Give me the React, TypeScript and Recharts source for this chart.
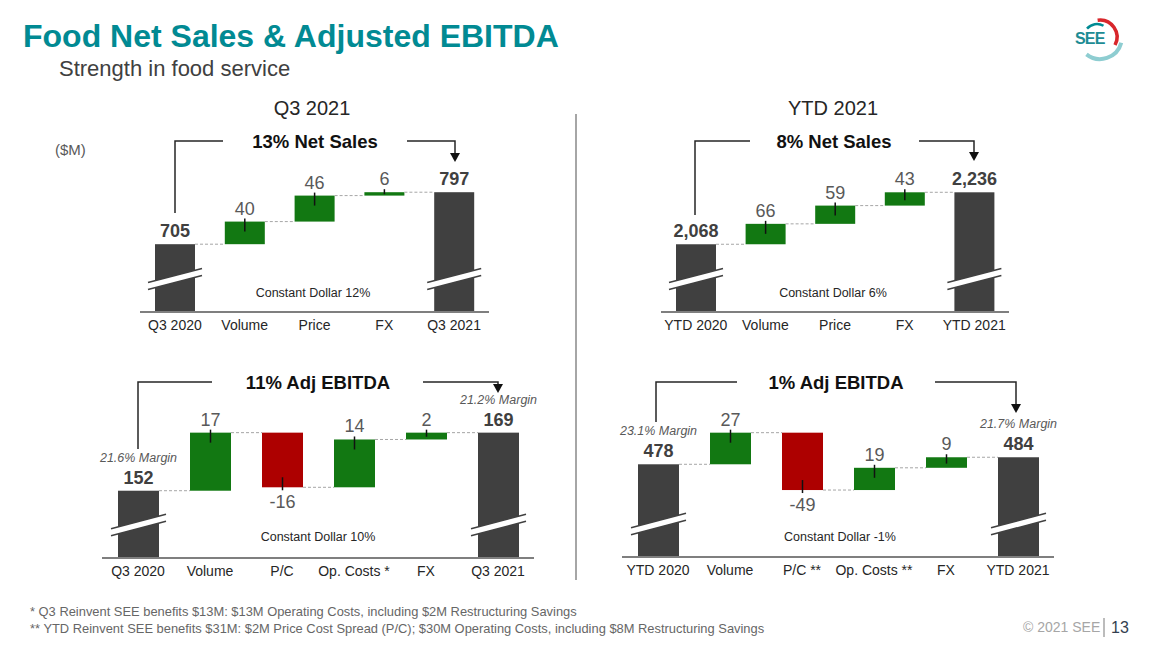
import React from 'react'
import { BarChart, Bar, XAxis, YAxis } from 'recharts'

const FONT = '"Liberation Sans", Arial, Helvetica, sans-serif'
const TEAL = '#018A93'
const BAR_DARK = '#404040'
const GREEN = '#127812'
const RED = '#AD0000'
const LABEL_GRAY = '#595959'

// Net sales bridges ($M)
const q3SalesCats = ['Q3 2020', 'Volume', 'Price', 'FX', 'Q3 2021']
const q3SalesVals = [705, 40, 46, 6, 797]
const ytdSalesCats = ['YTD 2020', 'Volume', 'Price', 'FX', 'YTD 2021']
const ytdSalesVals = [2068, 66, 59, 43, 2236]

// Adj EBITDA bridges ($M)
const q3EbitdaCats = ['Q3 2020', 'Volume', 'P/C', 'Op. Costs *', 'FX', 'Q3 2021']
const q3EbitdaVals = [152, 17, -16, 14, 2, 169]
const q3EbitdaMargins = ['21.6% Margin', '21.2% Margin']
const ytdEbitdaCats = ['YTD 2020', 'Volume', 'P/C **', 'Op. Costs **', 'FX', 'YTD 2021']
const ytdEbitdaVals = [478, 27, -49, 19, 9, 484]
const ytdEbitdaMargins = ['23.1% Margin', '21.7% Margin']

// broken value axes: [visible floor, top]
const q3SalesDomain: [number, number] = [585, 900]
const ytdSalesDomain: [number, number] = [1849, 2418]
const q3EbitdaDomain: [number, number] = [132.3, 185]
const ytdEbitdaDomain: [number, number] = [398.8, 550]

type Row = { cat: string; value: number; range: [number, number]; total: boolean; idx: number; margin?: string }

function buildRows(cats: string[], vals: number[], floor: number, margins: string[] = []): Row[] {
  let run = 0
  return cats.map((cat, i) => {
    const v = vals[i]
    const total = i === 0 || i === cats.length - 1
    if (total) {
      run = v
      return { cat, value: v, range: [floor, v] as [number, number], total, idx: i, margin: margins[i === 0 ? 0 : 1] }
    }
    const start = run
    run += v
    return { cat, value: v, range: [Math.min(start, run), Math.max(start, run)] as [number, number], total, idx: i }
  })
}

function BridgeBar(p: any) {
  const { x, width, payload, step, n } = p
  let { y, height } = p
  if (height < 0) { y += height; height = -height }
  const row: Row = payload
  const cx = x + width / 2
  const neg = !row.total && row.value < 0
  const fill = row.total ? BAR_DARK : neg ? RED : GREEN
  const level = neg ? y + height : y
  const out: any[] = []
  out.push(<rect key="r" x={x} y={y} width={width} height={height} fill={fill} />)
  if (row.idx < n - 1) {
    out.push(<line key="c" x1={x + width} x2={x + step} y1={level} y2={level} stroke="#A6A6A6" strokeWidth={1} strokeDasharray="3 2" />)
  }
  if (row.total) {
    // axis break slash
    const yc = y + height - 33
    const x0 = x - 7
    const x1 = x + width + 7
    const dy = ((x1 - x0) * 0.26) / 2
    out.push(
      <polygon key="s" points={`${x0},${yc - 3.5 + dy} ${x1},${yc - 3.5 - dy} ${x1},${yc + 3.5 - dy} ${x0},${yc + 3.5 + dy}`} fill="#fff" />,
      <line key="s1" x1={x0} y1={yc - 3.5 + dy} x2={x1} y2={yc - 3.5 - dy} stroke={BAR_DARK} strokeWidth={1.5} />,
      <line key="s2" x1={x0} y1={yc + 3.5 + dy} x2={x1} y2={yc + 3.5 - dy} stroke={BAR_DARK} strokeWidth={1.5} />,
      <text key="t" x={cx} y={y - 7} textAnchor="middle" fontFamily={FONT} fontSize={18} fontWeight="bold" fill={BAR_DARK}>
        {row.value.toLocaleString('en-US')}
      </text>
    )
    if (row.margin) {
      out.push(
        <text key="m" x={cx} y={y - 29} textAnchor="middle" fontFamily={FONT} fontSize={12.5} fontStyle="italic" fill={LABEL_GRAY}>
          {row.margin}
        </text>
      )
    }
  } else {
    const tickLen = Math.min(10, height * 0.6)
    if (neg) {
      const b = y + height
      out.push(<line key="k" x1={cx} x2={cx} y1={b - tickLen} y2={b + 3} stroke="#111" strokeWidth={1.5} />)
      out.push(
        <text key="t" x={cx} y={b + 21} textAnchor="middle" fontFamily={FONT} fontSize={18} fill={LABEL_GRAY}>
          {String(row.value)}
        </text>
      )
    } else {
      out.push(<line key="k" x1={cx} x2={cx} y1={y - 3} y2={y + tickLen} stroke="#111" strokeWidth={1.5} />)
      out.push(
        <text key="t" x={cx} y={y - 7} textAnchor="middle" fontFamily={FONT} fontSize={18} fill={LABEL_GRAY}>
          {String(row.value)}
        </text>
      )
    }
  }
  return <g>{out}</g>
}

const TOP = 20
const PAD = 40 // side room so margin labels are not cut by the svg edge

interface PanelProps {
  rows: Row[]
  left: number
  baseline: number
  width: number
  plotH: number
  domain: [number, number]
  barSize: number
}

function Panel({ rows, left, baseline, width, plotH, domain, barSize }: PanelProps) {
  const n = rows.length
  const step = width / n
  return (
    <div style={{ position: 'absolute', left: left - PAD, top: baseline - plotH - TOP }}>
      <BarChart
        width={width + PAD * 2}
        height={TOP + plotH + 30}
        data={rows}
        margin={{ top: TOP, right: PAD, bottom: 0, left: PAD }}
      >
        <XAxis
          dataKey="cat"
          interval={0}
          tickLine={false}
          axisLine={{ stroke: '#7F7F7F', strokeWidth: 2 }}
          tick={{ fill: '#262626', fontSize: 14, fontFamily: FONT }}
          height={30}
        />
        <YAxis hide type="number" domain={domain} allowDataOverflow />
        <Bar
          dataKey="range"
          barSize={barSize}
          isAnimationActive={false}
          shape={(p: any) => <BridgeBar {...p} step={step} n={n} />}
        />
      </BarChart>
    </div>
  )
}

function Bracket({ lx, ly, l2, title, tx, r1, r2, tip, y }: { lx: number; ly: number; l2: number; title: string; tx: number; r1: number; r2: number; tip: number; y: number }) {
  return (
    <g>
      <polyline points={`${lx},${ly} ${lx},${y} ${l2},${y}`} fill="none" stroke="#262626" strokeWidth={1.5} />
      <text x={tx} y={y + 6.5} textAnchor="middle" fontFamily={FONT} fontSize={18.5} fontWeight="bold" fill="#111">{title}</text>
      <polyline points={`${r1},${y} ${r2},${y} ${r2},${tip - 8}`} fill="none" stroke="#262626" strokeWidth={1.5} />
      <polygon points={`${r2 - 5},${tip - 9} ${r2 + 5},${tip - 9} ${r2},${tip}`} fill="#111" />
    </g>
  )
}

const arc = (cx: number, cy: number, r: number, a0: number, a1: number) => {
  const rad = (d: number) => (d * Math.PI) / 180
  const p0 = [cx + r * Math.cos(rad(a0)), cy + r * Math.sin(rad(a0))]
  const p1 = [cx + r * Math.cos(rad(a1)), cy + r * Math.sin(rad(a1))]
  return `M${p0[0]},${p0[1]} A${r},${r} 0 ${Math.abs(a1 - a0) > 180 ? 1 : 0} 1 ${p1[0]},${p1[1]}`
}

export default function App() {
  const q3Sales = buildRows(q3SalesCats, q3SalesVals, q3SalesDomain[0])
  const ytdSales = buildRows(ytdSalesCats, ytdSalesVals, ytdSalesDomain[0])
  const q3Ebitda = buildRows(q3EbitdaCats, q3EbitdaVals, q3EbitdaDomain[0], q3EbitdaMargins)
  const ytdEbitda = buildRows(ytdEbitdaCats, ytdEbitdaVals, ytdEbitdaDomain[0], ytdEbitdaMargins)

  return (
    <div style={{ position: 'absolute', left: 0, top: 0, width: 1152, height: 648, background: '#fff', overflow: 'hidden', fontFamily: FONT }}>
      <svg width={1152} height={648} style={{ position: 'absolute', left: 0, top: 0 }}>
        <text x={23} y={47} fontFamily={FONT} fontSize={32} fontWeight="bold" fill={TEAL}>Food Net Sales &amp; Adjusted EBITDA</text>
        <text x={59} y={76} fontFamily={FONT} fontSize={22} fill="#404040">Strength in food service</text>

        {/* logo */}
        <path d={arc(1100, 37, 22, 15, 128)} fill="none" stroke="#8ECDD1" strokeWidth={4} />
        <path d={arc(1100, 37, 17, -98, 28)} fill="none" stroke="#D8262B" strokeWidth={3.5} />
        <path d={arc(1097, 37, 13, -140, -60)} fill="none" stroke={TEAL} strokeWidth={2.5} />
        <text x={1075} y={44} fontFamily={FONT} fontSize={16} fontWeight="bold" fill="#1D8C94" letterSpacing={-0.8}>SEE</text>

        <text x={312} y={115} textAnchor="middle" fontFamily={FONT} fontSize={20} fill="#262626">Q3 2021</text>
        <text x={833} y={115} textAnchor="middle" fontFamily={FONT} fontSize={20} fill="#262626">YTD 2021</text>
        <text x={55} y={155} fontFamily={FONT} fontSize={15} fill={LABEL_GRAY}>($M)</text>

        <line x1={576} x2={576} y1={114} y2={580} stroke="#A6A6A6" strokeWidth={2} />

        <Bracket lx={175} ly={213} l2={223} title="13% Net Sales" tx={315} r1={407} r2={455} tip={162} y={141} />
        <Bracket lx={695} ly={215} l2={750} title="8% Net Sales" tx={834} r1={919} r2={974} tip={161} y={141} />
        <Bracket lx={138} ly={449} l2={212} title="11% Adj EBITDA" tx={318} r1={423} r2={498} tip={393} y={382} />
        <Bracket lx={656} ly={422} l2={737} title="1% Adj EBITDA" tx={836} r1={935} r2={1016} tip={413} y={382} />

        <text x={313} y={297} textAnchor="middle" fontFamily={FONT} fontSize={12.5} fill="#262626">Constant Dollar 12%</text>
        <text x={833} y={297} textAnchor="middle" fontFamily={FONT} fontSize={12.5} fill="#262626">Constant Dollar 6%</text>
        <text x={318} y={541} textAnchor="middle" fontFamily={FONT} fontSize={12.5} fill="#262626">Constant Dollar 10%</text>
        <text x={840} y={541} textAnchor="middle" fontFamily={FONT} fontSize={12.5} fill="#262626">Constant Dollar -1%</text>

        <text x={30} y={616} fontFamily={FONT} fontSize={12.9} fill="#666">* Q3 Reinvent SEE benefits $13M: $13M Operating Costs, including $2M Restructuring Savings</text>
        <text x={30} y={633} fontFamily={FONT} fontSize={12.9} fill="#666">** YTD Reinvent SEE benefits $31M: $2M Price Cost Spread (P/C); $30M Operating Costs, including $8M Restructuring Savings</text>
        <text x={1023} y={632} fontFamily={FONT} fontSize={14} fill="#A6A6A6">© 2021 SEE</text>
        <line x1={1104} x2={1104} y1={618} y2={637} stroke="#A6A6A6" strokeWidth={1.5} />
        <text x={1111} y={633} fontFamily={FONT} fontSize={16} fill="#333F50">13</text>
      </svg>

      <Panel rows={q3Sales} left={140} baseline={312} width={349} plotH={178} domain={q3SalesDomain} barSize={40} />
      <Panel rows={ytdSales} left={661} baseline={312} width={348} plotH={176} domain={ytdSalesDomain} barSize={40} />
      <Panel rows={q3Ebitda} left={102} baseline={558} width={432} plotH={180} domain={q3EbitdaDomain} barSize={41} />
      <Panel rows={ytdEbitda} left={622} baseline={557} width={432} plotH={177} domain={ytdEbitdaDomain} barSize={41} />
    </div>
  )
}
